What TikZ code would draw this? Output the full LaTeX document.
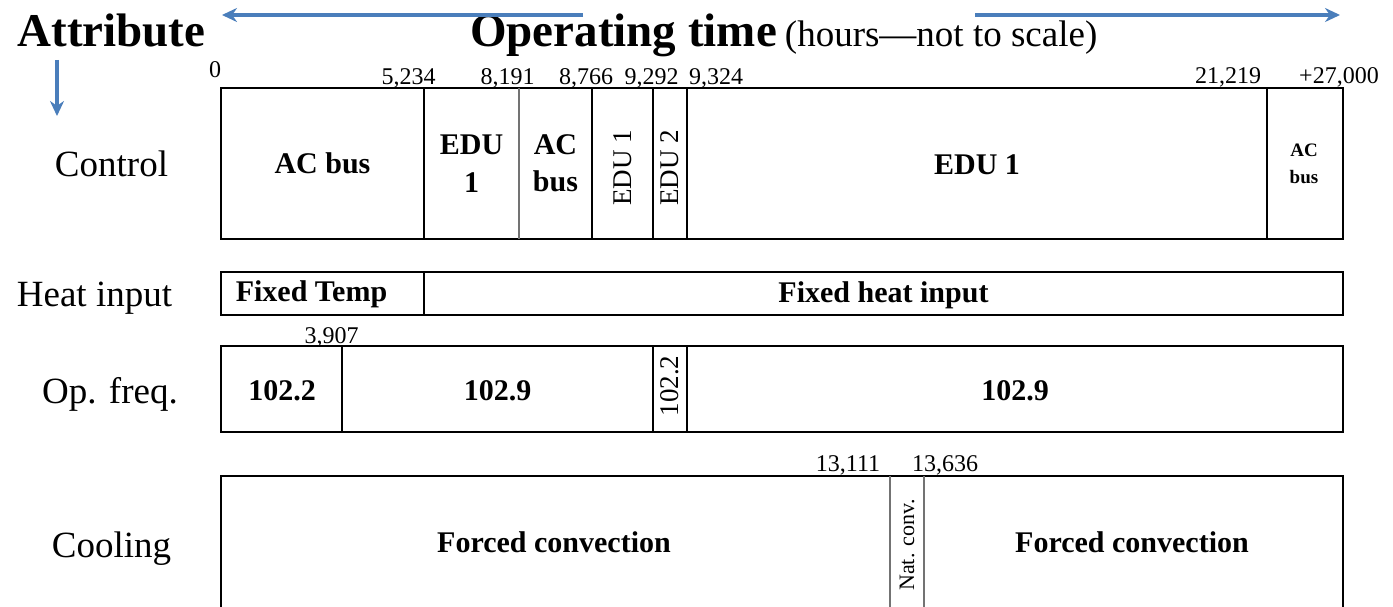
\documentclass[tikz,border=0pt]{standalone}
\usepackage{fontspec}
\setmainfont{Liberation Serif}
\usetikzlibrary{arrows.meta}
\definecolor{arrowblue}{HTML}{4A7EBB}
\tikzset{
  box/.style={draw=black, line width=1.6pt},
  div/.style={draw=black, line width=1.3pt},
  lightdiv/.style={draw=black!55, line width=1.1pt},
  blab/.style={font=\fontsize{30}{36}\selectfont\bfseries, anchor=base, inner sep=0},
  sblab/.style={font=\fontsize{19}{23}\selectfont\bfseries, anchor=base, inner sep=0},
  rlab/.style={font=\fontsize{37}{44}\selectfont, anchor=base, inner sep=0},
  num/.style={font=\fontsize{24}{28}\selectfont, anchor=base, inner sep=0},
  vlab/.style={font=\fontsize{27}{32}\selectfont, rotate=90, inner sep=0},
  blueArrow/.style={draw=arrowblue, line width=3.2pt, -{Stealth[length=15pt,width=14pt]}},
}
\begin{document}
\begin{tikzpicture}[x=1pt,y=-1pt]
\useasboundingbox (0,0) rectangle (1393,607);
\clip (0,0) rectangle (1393,607);

% header
\node[font=\fontsize{47}{52}\selectfont\bfseries, anchor=base, inner sep=0] (attr) at (111.5,47) {Attribute};
\node[anchor=base west, inner sep=0] (optime) at (470,47) {{\fontsize{47}{52}\selectfont\bfseries Operating time}\hspace{8pt}{\fontsize{37}{42}\selectfont(hours—not to scale)}};
\coordinate (la1) at (583,15); \coordinate (la2) at (222,15);
\coordinate (ra1) at (975,15); \coordinate (ra2) at (1340,15);
\coordinate (da1) at (57,60);  \coordinate (da2) at (57,116);
\draw[blueArrow] (la1) -- (la2);
\draw[blueArrow] (ra1) -- (ra2);
\draw[blueArrow] (da1) -- (da2);

% row labels
\node[rlab] (lcontrol) at (111.5,177) {Control};
\node[rlab] (lheat) at (94.5,306) {Heat input};
\node[rlab] (lfreq) at (110,403) {Op. freq.};
\node[rlab] (lcool) at (111.5,557) {Cooling};

% Control row
\draw[box] (221,88) rectangle (1343,239);
\draw[div] (424,88) -- (424,239);
\draw[lightdiv] (519,88) -- (519,239);
\draw[div] (592,88) -- (592,239);
\draw[div] (653,88) -- (653,239);
\draw[div] (687,88) -- (687,239);
\draw[div] (1267,88) -- (1267,239);
\node[blab] (c1) at (322.5,174) {AC bus};
\node[blab] (c2a) at (471.5,155) {EDU};
\node[blab] (c2b) at (471.5,193) {1};
\node[blab] (c3a) at (555.5,155) {AC};
\node[blab] (c3b) at (555.5,192) {bus};
\node[vlab] (c4) at (622.5,168) {EDU 1};
\node[vlab] (c5) at (670,168) {EDU 2};
\node[blab] (c6) at (977,175) {EDU 1};
\node[sblab] (c7a) at (1304,157) {AC};
\node[sblab] (c7b) at (1304,183) {bus};

% top numbers
\node[num] (n0) at (215,78) {0};
\node[num] (n1) at (408.5,85) {5,234};
\node[num] (n2) at (507.5,85) {8,191};
\node[num] (n3) at (586,85) {8,766};
\node[num] (n4) at (651.5,85) {9,292};
\node[num] (n5) at (716,85) {9,324};
\node[num] (n6) at (1228,84) {21,219};
\node[num] (n7) at (1339,84) {+27,000};

% Heat input row
\draw[box] (221,272) rectangle (1343,315);
\draw[div] (424,272) -- (424,315);
\node[blab] (h1) at (311.5,301) {Fixed Temp};
\node[blab] (h2) at (883.5,302) {Fixed heat input};

% Op. freq. row
\node[num] (n8) at (331.5,343) {3,907};
\draw[box] (221,346) rectangle (1343,432);
\draw[div] (342,346) -- (342,432);
\draw[div] (653,346) -- (653,432);
\draw[div] (687,346) -- (687,432);
\node[blab] (f1) at (282,400) {102.2};
\node[blab] (f2) at (497.5,400) {102.9};
\node[vlab] (f3) at (670,386) {102.2};
\node[blab] (f4) at (1015,400) {102.9};

% Cooling row
\node[num] (n9) at (848,471) {13,111};
\node[num] (n10) at (945,471) {13,636};
\draw[box] (221,476) rectangle (1343,640);
\draw[lightdiv] (890,476) -- (890,640);
\draw[lightdiv] (924,476) -- (924,640);
\node[blab] (k1) at (554,552) {Forced convection};
\node[vlab, font=\fontsize{22}{26}\selectfont] (k2) at (907,545) {Nat. conv.};
\node[blab] (k3) at (1132,552) {Forced convection};
\end{tikzpicture}
\end{document}
